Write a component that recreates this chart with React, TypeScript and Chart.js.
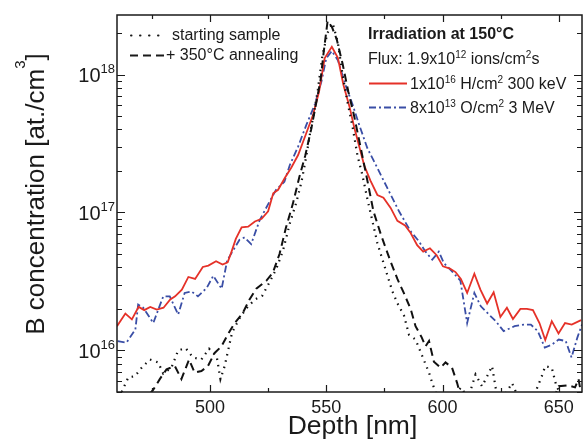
import React, { useEffect, useRef } from 'react';
import { Chart, registerables } from 'chart.js';

Chart.register(...registerables);

// ---------- data ----------
const redDepth = [460, 463.6, 466.4, 469.3, 471.7, 474.3, 477.1, 480, 482.9, 485, 487.9, 490.7, 493.6, 496.9, 499.3, 502.6, 505.4, 507.6, 509.3, 511.1, 513.6, 516.4, 519.3, 522.2, 525, 527.2, 529.3, 532.1, 535, 537.9, 541.4, 544.3, 546.9, 549.3, 552.4, 555, 557.4, 560, 562.1, 566.3, 569, 572, 574.6, 577.7, 580.6, 583.9, 586.3, 589.1, 591.7, 594.6, 597.5, 600.2, 603.2, 605.6, 607.9, 610.6, 613.7, 616.3, 619.2, 622, 624.9, 627.7, 630.3, 633.5, 636.3, 638.9, 641.7, 644.2, 647, 649.9, 652.7, 655.6, 659.6];
const redConc = [1.5e16, 1.85e16, 1.68e16, 2.07e16, 1.96e16, 2.07e16, 1.98e16, 2.04e16, 2.34e16, 2.47e16, 2.76e16, 3.41e16, 3.3e16, 4.03e16, 4.12e16, 4.43e16, 4.19e16, 4.35e16, 5.23e16, 6.43e16, 7.8e16, 7.9e16, 8.6e16, 9.0e16, 1.02e17, 1.38e17, 1.46e17, 1.77e17, 2.12e17, 2.61e17, 3.75e17, 5.08e17, 7.5e17, 1.31e18, 1.59e18, 1.32e18, 8.4e17, 5.85e17, 4.1e17, 2.2e17, 1.7e17, 1.34e17, 1.28e17, 1.08e17, 8.7e16, 8.05e16, 7.1e16, 5.8e16, 5.2e16, 5.5e16, 4.9e16, 4.07e16, 3.92e16, 3.7e16, 3.3e16, 2.61e16, 3.6e16, 2.76e16, 2.19e16, 2.64e16, 1.75e16, 2.04e16, 1.69e16, 2.0e16, 2.0e16, 1.96e16, 1.58e16, 1.19e16, 1.63e16, 1.33e16, 1.58e16, 1.54e16, 1.66e16];

const blueDepth = [460.3, 464.1, 467.9, 469.1, 471.3, 475.6, 479.9, 482.7, 486.3, 489.1, 492, 494.8, 498.6, 501.4, 505, 507.4, 512.7, 514.9, 517.7, 521.3, 524.9, 528.4, 532, 534.3, 537.9, 541.4, 545, 547.9, 550, 552.4, 555, 558.6, 561.4, 564.2, 567.7, 572, 576.3, 581.3, 586.3, 589.9, 592.7, 595.6, 598.4, 600.6, 604.1, 607.7, 610.6, 613.7, 616.5, 620, 622.9, 626.3, 631, 635, 638, 641, 644, 647, 650, 653, 655.5, 658, 660];
const blueConc = [1.17e16, 1.14e16, 1.42e16, 2.15e16, 2.04e16, 1.58e16, 2.47e16, 2.47e16, 1.82e16, 2.61e16, 2.68e16, 2.47e16, 2.84e16, 3.48e16, 2.8e16, 4.5e16, 6.35e16, 6.6e16, 5.9e16, 8.75e16, 1.14e17, 1.46e17, 1.67e17, 2.2e17, 3.0e17, 4.3e17, 6.0e17, 8.85e17, 1.31e18, 1.48e18, 1.27e18, 8.1e17, 6.0e17, 4.3e17, 2.92e17, 2.1e17, 1.5e17, 1.02e17, 7.3e16, 6.17e16, 5.2e16, 4.55e16, 5.2e16, 4.3e16, 3.74e16, 3.2e16, 1.58e16, 2.61e16, 2.09e16, 1.82e16, 1.63e16, 1.38e16, 1.5e16, 1.54e16, 1.54e16, 1.38e16, 1.05e16, 1.1e16, 1.2e16, 1.17e16, 8.9e15, 1.24e16, 1.54e16];

const startDepth = [462, 464.9, 467.7, 470.6, 474.1, 477.7, 479.9, 483.4, 486.3, 489.5, 492.7, 496.3, 499.6, 502.9, 504.5, 506.3, 509.5, 513, 516.5, 519.5, 522.5, 525.5, 528.5, 531.4, 534.3, 537.1, 539.3, 541.4, 543.1, 545, 546.4, 548.3, 550.5, 552.8, 555, 557, 559.1, 561.3, 563.4, 565.6, 567.7, 569.9, 572, 574.1, 576.3, 578.4, 580.6, 583.4, 585.6, 588.4, 591.3, 594.2, 595.6, 598, 600, 604, 608, 611, 614.2, 617, 619.2, 621.3, 623, 626, 629.9, 633, 637, 640, 642.7, 644.2, 647, 649, 652, 656, 660];
const startConc = [5.0e15, 6.4e15, 6.5e15, 7.5e15, 8.6e15, 8.2e15, 6.8e15, 7.5e15, 1.0e16, 1.04e16, 8.9e15, 8.6e15, 1.03e16, 9.0e15, 6.2e15, 7.7e15, 1.35e16, 1.75e16, 2.1e16, 2.35e16, 2.5e16, 3.1e16, 3.9e16, 5.3e16, 8.3e16, 1.18e17, 1.65e17, 2.55e17, 3.8e17, 5.6e17, 7.8e17, 1.35e18, 2.0e18, 2.35e18, 1.7e18, 1.0e18, 6.35e17, 4.2e17, 2.6e17, 1.85e17, 1.25e17, 8.6e16, 6.0e16, 4.6e16, 3.5e16, 2.7e16, 2.2e16, 1.8e16, 1.3e16, 1.2e16, 9.1e15, 6.9e15, 5.8e15, 4.5e15, 4.0e15, 4.5e15, 5.4e15, 4.5e15, 6.7e15, 5.5e15, 6.5e15, 7.7e15, 5.2e15, 4.5e15, 5.8e15, 4.4e15, 4.6e15, 5.0e15, 6.5e15, 7.7e15, 7.5e15, 5.5e15, 4.5e15, 4.2e15, 4.5e15];

const annealDepth = [470, 473, 475.6, 478.4, 481.3, 484.9, 487.7, 491, 493.4, 496.3, 499.1, 502, 504.9, 507.7, 510.6, 514.1, 517, 519.9, 524.2, 527, 529.9, 532.7, 535.6, 538.4, 541, 543.5, 545.5, 547.5, 549, 550.6, 552.5, 554.5, 557, 559.5, 562, 564.9, 567.7, 570.3, 573.4, 575.6, 577.7, 580.6, 583.4, 586.3, 588.4, 591, 592.7, 594.2, 596.3, 599.2, 601.3, 604.1, 606.3, 608, 612, 615, 625, 635, 645, 648, 650, 654, 657, 658.5, 660];
const annealConc = [4.2e15, 4.6e15, 5.2e15, 6.2e15, 7.3e15, 7.7e15, 6.2e15, 8.6e15, 6.9e15, 7.1e15, 7.7e15, 9.6e15, 1.07e16, 1.31e16, 1.58e16, 1.87e16, 2.34e16, 2.8e16, 3.2e16, 3.65e16, 5.0e16, 7.8e16, 1.15e17, 1.8e17, 2.6e17, 4.0e17, 6.0e17, 9.0e17, 1.5e18, 2.45e18, 2.2e18, 1.8e18, 1.2e18, 7.5e17, 5.0e17, 2.9e17, 1.7e17, 1.02e17, 7.0e16, 5.5e16, 4.4e16, 3.3e16, 2.6e16, 2.0e16, 1.5e16, 1.25e16, 1.07e16, 1.17e16, 8.3e15, 7.5e15, 8.2e15, 7.5e15, 5.8e15, 4.5e15, 4.0e15, 3.8e15, 3.5e15, 3.8e15, 4.2e15, 4.6e15, 5.5e15, 5.6e15, 5.4e15, 6.2e15, 4.5e15];

const xMin = 460;
const xMax = 660;
const yMin = 5e15;
const yMax = 2.7e18;
const xTickLabels = [500, 550, 600, 650];
const xMinorTicks = [475, 525, 575, 625];
const yTickExponents = [16, 17, 18];
const yMinorMantissas = [2, 3, 4, 5, 6, 7, 8, 9];

const FONT = '"Liberation Sans", Arial, Helvetica, sans-serif';
const INK = '#1a1a1a';
const RED = '#e53128';
const BLUE = '#3a4ea6';

type Part = { t: string; sup?: boolean };

function drawRich(
  ctx: CanvasRenderingContext2D,
  parts: Part[],
  x: number,
  y: number,
  size: number,
  supSize: number,
  rise: number,
  align: 'left' | 'center' | 'right',
  bold = false
) {
  const w = bold ? 'bold ' : '';
  const widths = parts.map((p) => {
    ctx.font = `${w}${p.sup ? supSize : size}px ${FONT}`;
    return ctx.measureText(p.t).width;
  });
  const total = widths.reduce((a, b) => a + b, 0);
  let cx = align === 'left' ? x : align === 'center' ? x - total / 2 : x - total;
  ctx.textAlign = 'left';
  ctx.textBaseline = 'alphabetic';
  parts.forEach((p, i) => {
    ctx.font = `${w}${p.sup ? supSize : size}px ${FONT}`;
    ctx.fillText(p.t, cx, p.sup ? y - rise : y);
    cx += widths[i];
  });
}

const decorPlugin = {
  id: 'decor',
  afterDraw(chart: any) {
    const ctx: CanvasRenderingContext2D = chart.ctx;
    const { left, right, top, bottom } = chart.chartArea;
    const xs = chart.scales.x;
    const ys = chart.scales.y;
    ctx.save();
    ctx.strokeStyle = INK;
    ctx.fillStyle = INK;
    ctx.setLineDash([]);

    // frame
    ctx.lineWidth = 1.5;
    ctx.strokeRect(left, top, right - left, bottom - top);

    // x ticks
    ctx.lineWidth = 1.2;
    const xt = [...xTickLabels.map((v) => ({ v, major: true })), ...xMinorTicks.map((v) => ({ v, major: false }))];
    xt.forEach(({ v, major }) => {
      const px = Math.round(xs.getPixelForValue(v)) + 0.5;
      const len = major ? 7 : 4;
      ctx.beginPath();
      ctx.moveTo(px, bottom);
      ctx.lineTo(px, bottom - len);
      ctx.moveTo(px, top);
      ctx.lineTo(px, top + len);
      ctx.stroke();
    });

    // y ticks
    const yt: { v: number; major: boolean }[] = [];
    yTickExponents.forEach((e) => yt.push({ v: Math.pow(10, e), major: true }));
    [15, 16, 17, 18].forEach((e) =>
      yMinorMantissas.forEach((m) => {
        const v = m * Math.pow(10, e);
        if (v >= yMin && v <= yMax) yt.push({ v, major: false });
      })
    );
    yt.forEach(({ v, major }) => {
      const py = Math.round(ys.getPixelForValue(v)) + 0.5;
      const len = major ? 8 : 5;
      ctx.beginPath();
      ctx.moveTo(left, py);
      ctx.lineTo(left + len, py);
      ctx.moveTo(right, py);
      ctx.lineTo(right - len, py);
      ctx.stroke();
    });

    // x tick labels
    ctx.font = `18px ${FONT}`;
    ctx.textAlign = 'center';
    ctx.textBaseline = 'alphabetic';
    xTickLabels.forEach((v) => {
      ctx.fillText(String(v), xs.getPixelForValue(v), 413);
    });

    // y tick labels
    yTickExponents.forEach((e) => {
      const py = ys.getPixelForValue(Math.pow(10, e));
      drawRich(ctx, [{ t: '10' }, { t: String(e), sup: true }], 115, py + 7.5, 20, 13, 9, 'right');
    });

    // axis titles
    ctx.font = `26.5px ${FONT}`;
    ctx.textAlign = 'center';
    ctx.fillText('Depth [nm]', (left + right) / 2 + 3, 434);

    ctx.save();
    ctx.translate(44, 194);
    ctx.rotate(-Math.PI / 2);
    drawRich(ctx, [{ t: 'B concentration [at./cm' }, { t: '3', sup: true }, { t: ']' }], 0, 0, 26, 15, 19, 'center');
    ctx.restore();

    // left legend
    ctx.lineWidth = 2;
    ctx.lineCap = 'round';
    ctx.setLineDash([0.5, 8.5]);
    ctx.beginPath();
    ctx.moveTo(131, 35.5);
    ctx.lineTo(162, 35.5);
    ctx.stroke();
    ctx.lineCap = 'butt';
    ctx.setLineDash([8, 5]);
    ctx.beginPath();
    ctx.moveTo(130, 55.5);
    ctx.lineTo(164, 55.5);
    ctx.stroke();
    ctx.setLineDash([]);
    ctx.font = `16px ${FONT}`;
    ctx.textAlign = 'left';
    ctx.fillText('starting sample', 172, 40);
    ctx.fillText('+ 350°C annealing', 166, 60);

    // right legend
    ctx.font = `bold 16px ${FONT}`;
    ctx.fillText('Irradiation at 150°C', 368, 38.5);
    drawRich(
      ctx,
      [{ t: 'Flux: 1.9x10' }, { t: '12', sup: true }, { t: ' ions/cm' }, { t: '2', sup: true }, { t: 's' }],
      368, 63.5, 16, 10, 6, 'left'
    );
    ctx.lineWidth = 2;
    ctx.strokeStyle = RED;
    ctx.beginPath();
    ctx.moveTo(369, 83.5);
    ctx.lineTo(407, 83.5);
    ctx.stroke();
    ctx.strokeStyle = BLUE;
    ctx.setLineDash([7, 3, 2, 3]);
    ctx.beginPath();
    ctx.moveTo(369, 107.5);
    ctx.lineTo(408, 107.5);
    ctx.stroke();
    ctx.setLineDash([]);
    ctx.fillStyle = INK;
    drawRich(
      ctx,
      [{ t: '1x10' }, { t: '16', sup: true }, { t: ' H/cm' }, { t: '2', sup: true }, { t: ' 300 keV' }],
      410, 88.5, 16, 10, 6, 'left'
    );
    drawRich(
      ctx,
      [{ t: '8x10' }, { t: '13', sup: true }, { t: ' O/cm' }, { t: '2', sup: true }, { t: ' 3 MeV' }],
      410, 112.5, 16, 10, 6, 'left'
    );
    ctx.restore();
  },
};

function toPoints(xs: number[], ys: number[]) {
  return xs.map((x, i) => ({ x, y: ys[i] }));
}

export default function App() {
  const ref = useRef<HTMLCanvasElement>(null);

  useEffect(() => {
    if (!ref.current) return;
    const chart = new Chart(ref.current, {
      type: 'line',
      data: {
        datasets: [
          {
            label: 'starting sample',
            data: toPoints(startDepth, startConc),
            borderColor: '#111',
            borderWidth: 2.2,
            borderDash: [1.5, 5],
            pointRadius: 0,
            fill: false,
            tension: 0,
          },
          {
            label: '+ 350°C annealing',
            data: toPoints(annealDepth, annealConc),
            borderColor: '#111',
            borderWidth: 2,
            borderDash: [8, 5],
            pointRadius: 0,
            fill: false,
            tension: 0,
          },
          {
            label: '1x10^16 H/cm^2 300 keV',
            data: toPoints(redDepth, redConc),
            borderColor: RED,
            borderWidth: 1.8,
            pointRadius: 0,
            fill: false,
            tension: 0,
          },
          {
            label: '8x10^13 O/cm^2 3 MeV',
            data: toPoints(blueDepth, blueConc),
            borderColor: BLUE,
            borderWidth: 1.8,
            borderDash: [7, 3, 2, 3],
            pointRadius: 0,
            fill: false,
            tension: 0,
          },
        ],
      },
      options: {
        responsive: false,
        animation: false,
        devicePixelRatio: 1,
        layout: { padding: { top: 15, right: 3, left: 0, bottom: 0 } },
        plugins: { legend: { display: false }, tooltip: { enabled: false }, title: { display: false } },
        scales: {
          x: {
            type: 'linear',
            min: xMin,
            max: xMax,
            ticks: { display: false },
            grid: { display: false, drawTicks: false },
            border: { display: false },
            afterFit: (s: any) => {
              s.height = 52;
            },
          },
          y: {
            type: 'logarithmic',
            min: yMin,
            max: yMax,
            ticks: { display: false },
            grid: { display: false, drawTicks: false },
            border: { display: false },
            afterFit: (s: any) => {
              s.width = 117;
            },
          },
        },
      } as any,
      plugins: [decorPlugin],
    });
    return () => chart.destroy();
  }, []);

  return (
    <div style={{ position: 'absolute', left: 0, top: 0, width: 585, height: 444, background: '#fff' }}>
      <canvas ref={ref} width={585} height={444} style={{ display: 'block', width: 585, height: 444 }} />
    </div>
  );
}
